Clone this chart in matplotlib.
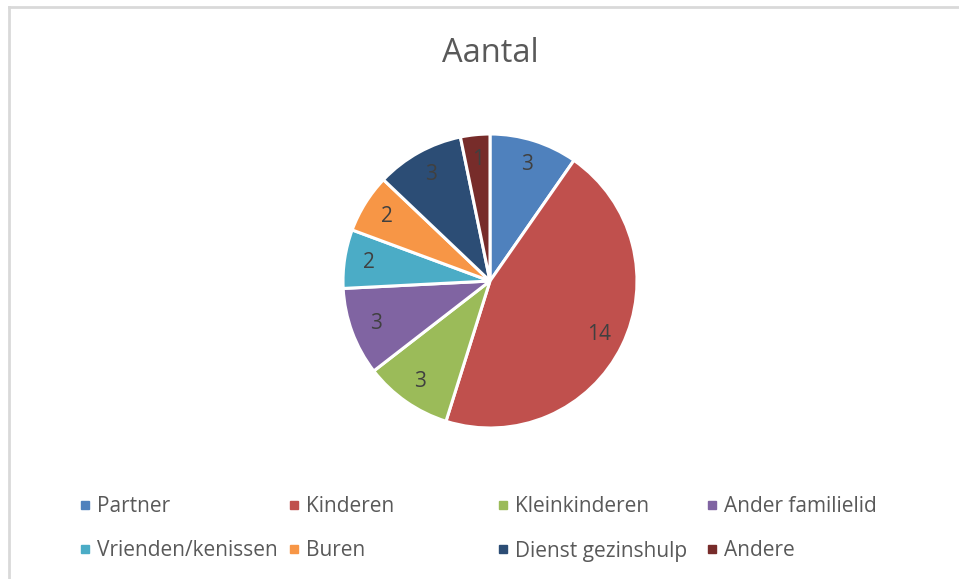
import matplotlib.pyplot as plt
from matplotlib.lines import Line2D

# data
labels = [
    "Partner",
    "Kinderen",
    "Kleinkinderen",
    "Ander familielid",
    "Vrienden/kenissen",
    "Buren",
    "Dienst gezinshulp",
    "Andere",
]
counts = [3, 14, 3, 3, 2, 2, 3, 1]
colors = ["#4F81BD", "#C0504D", "#9BBB59", "#8064A2", "#4BACC6", "#F79646", "#2C4D75", "#772C2A"]

W, H = 959, 579
plt.rcParams["font.family"] = ["Open Sans", "DejaVu Sans"]

fig = plt.figure(figsize=(W / 100, H / 100), dpi=100)
fig.patch.set_facecolor("white")

# chart border (top and left visible in the crop)
fig.add_artist(Line2D([9 / W, 9 / W], [0, 1 - 7 / H], color="#D9D9D9", linewidth=2))
fig.add_artist(Line2D([9 / W, 1], [1 - 7 / H, 1 - 7 / H], color="#D9D9D9", linewidth=2))

# pie centred at (490, 281) px with a 147 px radius
cx, cy, r = 490, 281, 147
ax = fig.add_axes([(cx - r) / W, (H - cy - r) / H, 2 * r / W, 2 * r / H])
total = sum(counts)
wedges, texts, autotexts = ax.pie(
    counts,
    colors=colors,
    startangle=90,
    counterclock=False,
    autopct=lambda p: f"{round(p * total / 100):d}",
    pctdistance=0.83,
    wedgeprops={"edgecolor": "white", "linewidth": 2.2},
    textprops={"color": "#404040", "fontsize": 15},
)
ax.set_xlim(-1, 1)
ax.set_ylim(-1, 1)
ax.set_aspect("equal")

fig.text(cx / W, 1 - 53 / H, "Aantal", ha="center", va="center", fontsize=23.5, color="#595959")

# legend, 4 columns x 2 rows
for i, (label, color) in enumerate(zip(labels, colors)):
    x = 85 + (i % 4) * 209
    y = 505 + (i // 4) * 44
    fig.add_artist(
        Line2D([x / W], [1 - y / H], marker="s", markersize=6, color=color, linestyle="none")
    )
    fig.text((x + 12) / W, 1 - (y + 2) / H, label, ha="left", va="center", fontsize=15, color="#595959")

fig.savefig("out.png", dpi=100)
